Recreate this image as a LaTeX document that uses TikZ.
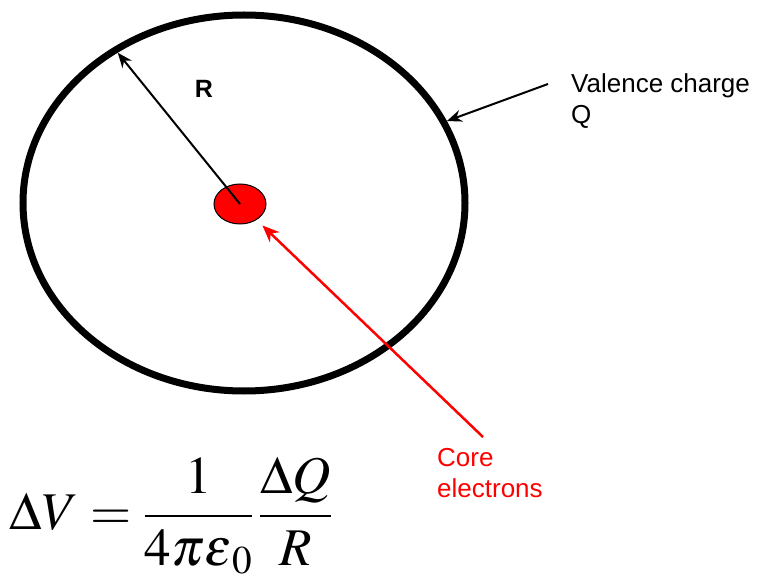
\documentclass[tikz,border=0pt]{standalone}
\usepackage{amsmath}
\usepackage{mathptmx}
\usepackage{fontspec}
\usepackage{tikz}
\usetikzlibrary{arrows.meta,positioning,shapes.geometric}
\newfontfamily\arialfont{Liberation Sans}
\definecolor{corered}{HTML}{FF0000}

\begin{document}
\begin{tikzpicture}[x=1pt, y=-1pt,
    shell/.style={ellipse, draw=black, line width=7pt, minimum width=442pt, minimum height=376pt, inner sep=0pt},
    corebox/.style={ellipse, draw=black, fill=corered, line width=1pt, minimum width=52pt, minimum height=40pt, inner sep=0pt},
    lbl/.style={font=\arialfont\fontsize{26}{31}\selectfont, inner sep=0pt, align=left, anchor=base west},
    arrow/.style={-{Stealth[length=15pt, width=12pt]}, line width=2pt}
  ]
    \useasboundingbox (0,0) rectangle (758,577);

    \node[shell] (shell) at (244,203) {};
    \node[corebox] (core) at (240,204) {};
    \node[font=\arialfont\bfseries\fontsize{25}{30}\selectfont, inner sep=0pt] (rlbl) at (204,89) {R};
    \node[lbl] (valence) at (571,124) {Valence charge\\Q};
    \node[lbl, text=corered] (corelbl) at (437,497) {Core\\electrons};
    \node[font=\fontsize{53}{60}\selectfont, inner sep=0pt] (formula) at (171,516)
      {$\displaystyle \Delta V=\frac{1}{4\pi\varepsilon_{\,0}}\,\frac{\Delta Q}{R}$};

    % free ends of the pointers
    \coordinate (vtail) at (548,84);
    \coordinate (ctail) at (483,437);

    \draw[arrow, shorten >=7pt] (core.center) -- (shell.130);
    \draw[arrow] (vtail) -- (shell.22);
    \draw[arrow, draw=corered, fill=corered, line width=2.5pt, -{Stealth[length=17pt, width=14pt]}, shorten >=8pt] (ctail) -- (core);
  \end{tikzpicture}
\end{document}
